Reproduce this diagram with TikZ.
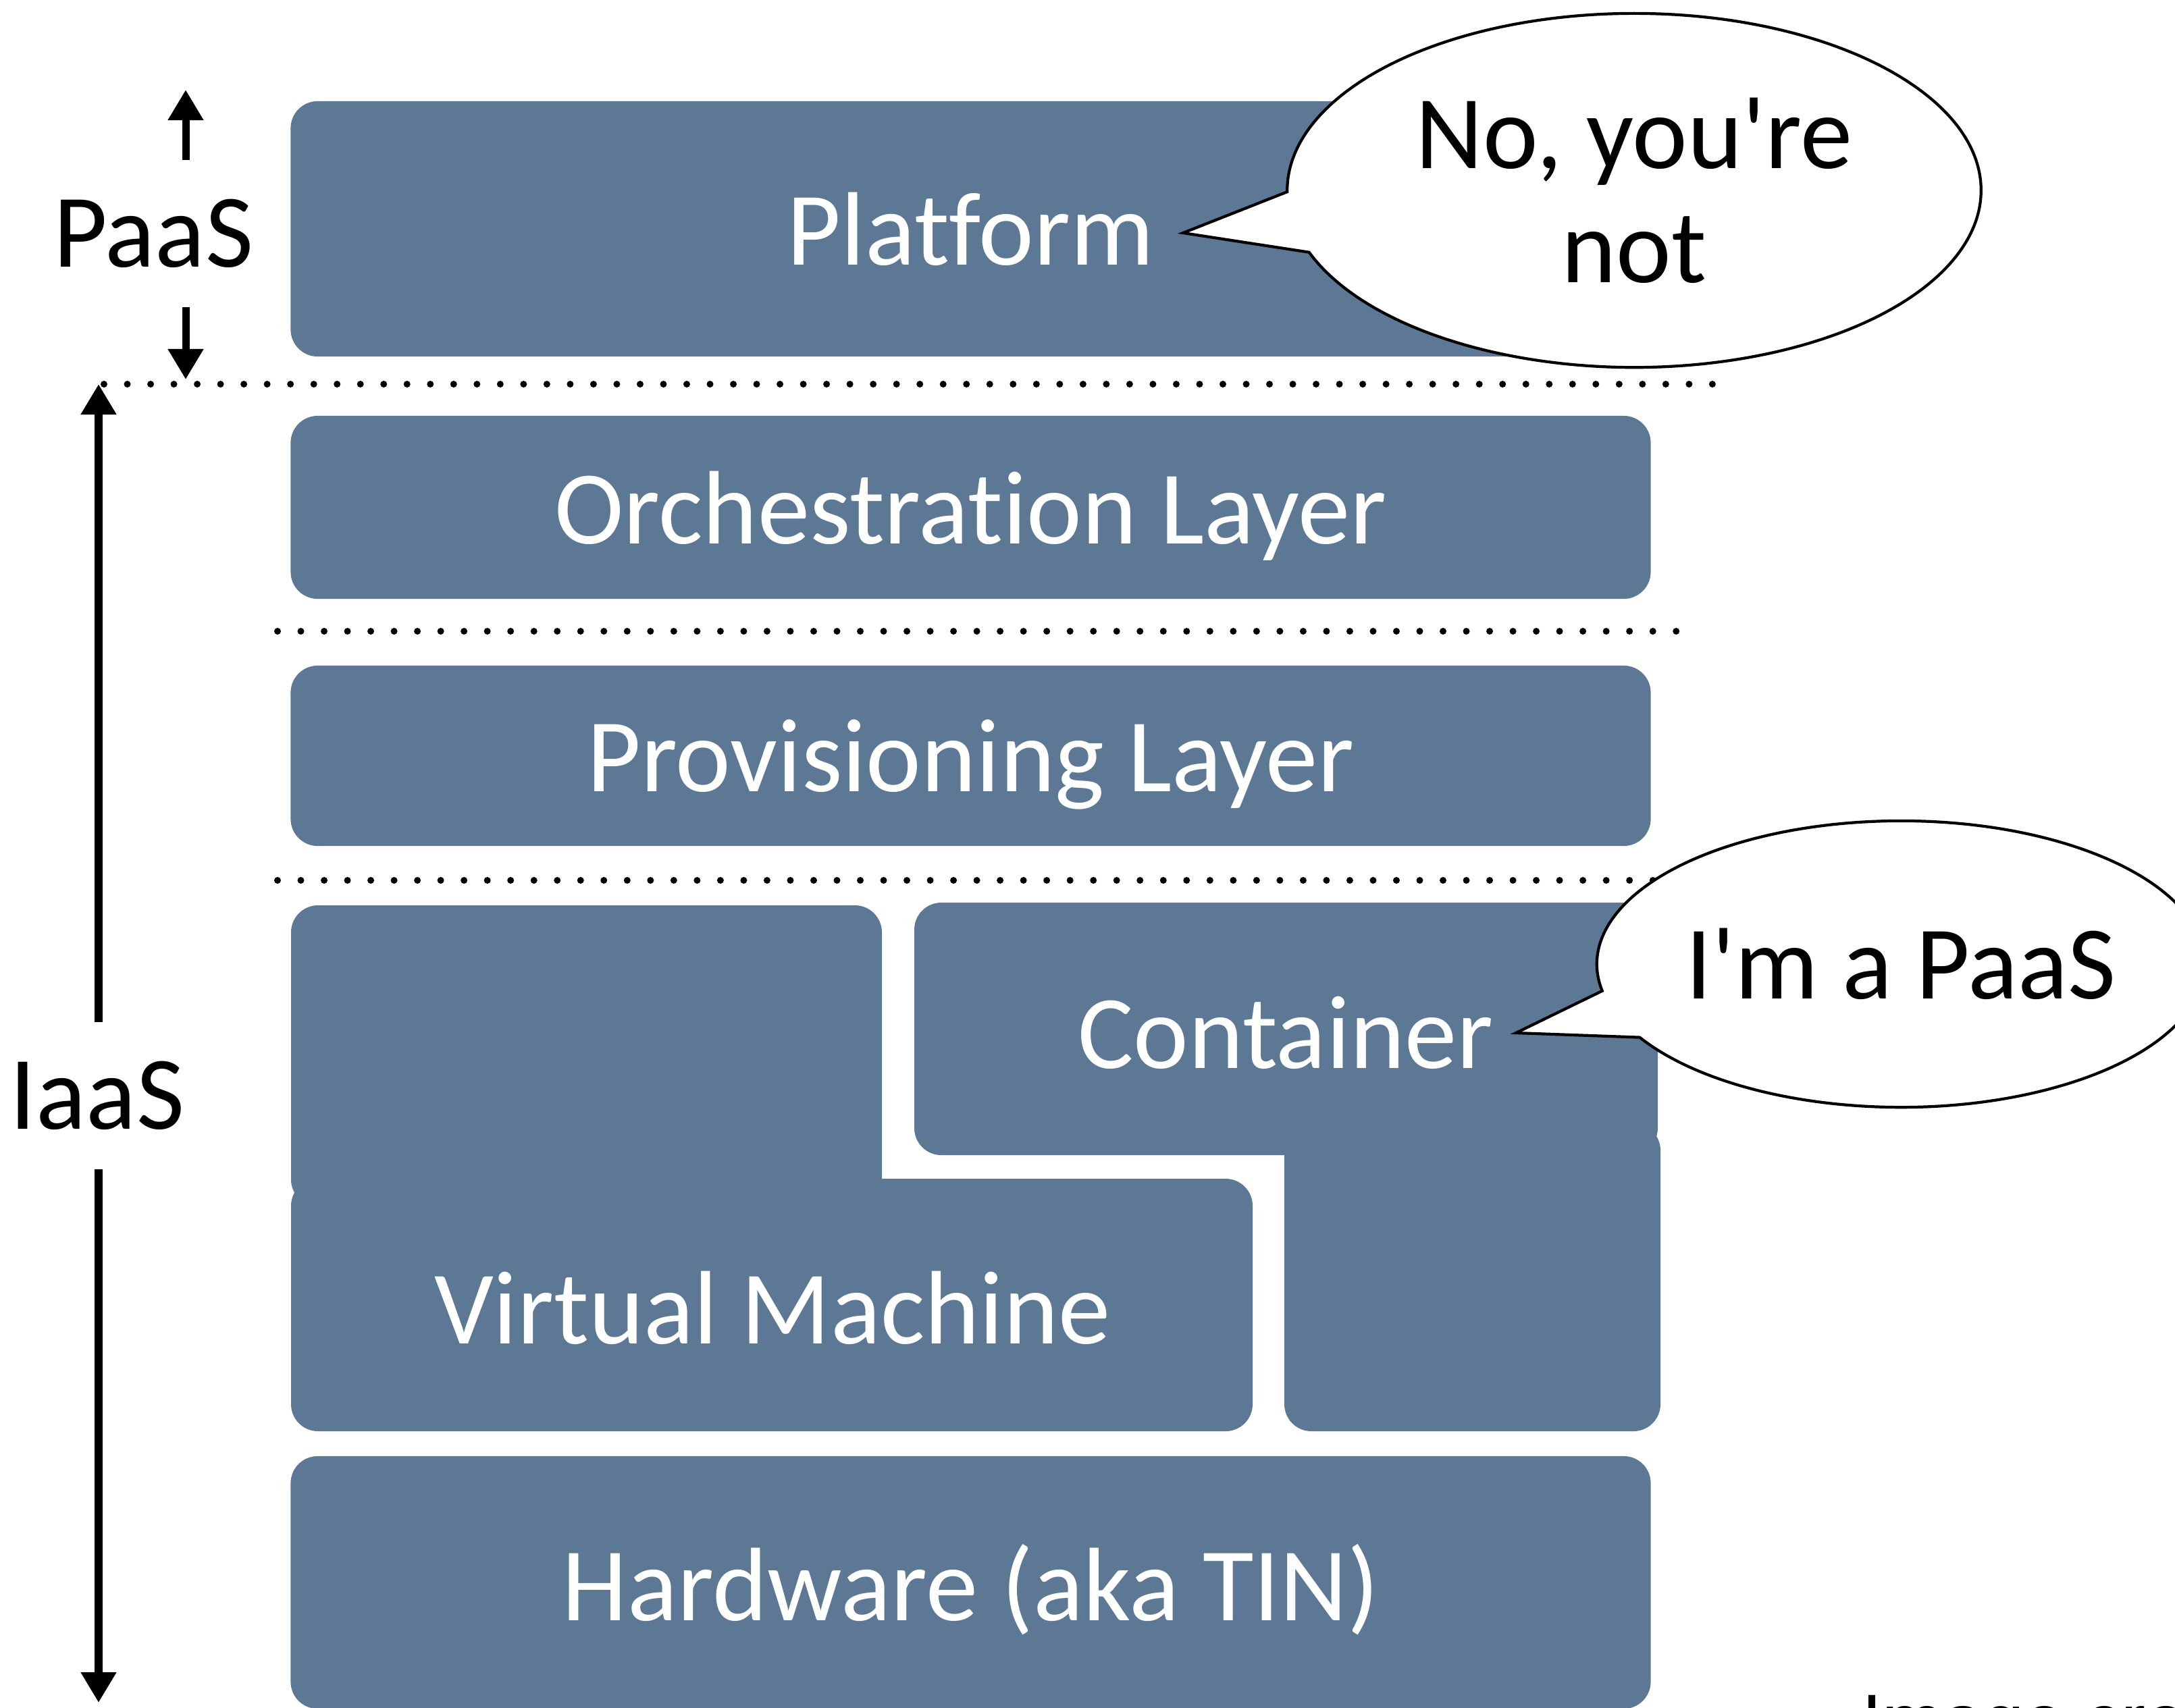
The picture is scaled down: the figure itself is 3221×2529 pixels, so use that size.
\documentclass[tikz,border=0pt]{standalone}
\usepackage{fontspec}
\newfontfamily\labelfont{Carlito}[Ligatures=NoCommon]
\newfontfamily\credfont{Liberation Sans}
\usetikzlibrary{arrows.meta,shapes.callouts}
\definecolor{slate}{RGB}{92,120,148}
\tikzset{
  layer/.style={fill=slate, rounded corners=0.4cm, text=white, inner sep=0pt, text depth=0pt,
    font=\labelfont\fontsize{44}{48}\selectfont, minimum width=20.13cm},
  block/.style={fill=slate, rounded corners=0.4cm},
  boxlabel/.style={text=white, font=\labelfont\fontsize{44}{48}\selectfont},
  sidelabel/.style={text=black, font=\labelfont\fontsize{44}{48}\selectfont},
  bubble/.style={ellipse callout, draw=black, line width=1.2pt, fill=white, inner sep=0pt,
    callout pointer arc=20, align=center, font=\labelfont\fontsize{44}{48}\selectfont},
  sep/.style={line width=0.1cm, dash pattern=on 0pt off 0.345cm, line cap=round},
  span/.style={line width=0.11cm, -{Triangle[width=0.5cm,length=0.45cm]}}
}
\begin{document}
\begin{tikzpicture}[x=0.01cm,y=-0.01cm]
\useasboundingbox (0,0) rectangle (3221,2529);
% layers
\node [layer, minimum height=3.78cm] (platform) at (1437.5,339) {Platform};
\node [layer, minimum height=2.71cm] (orch) at (1437.5,751.5) {Orchestration Layer};
\node [layer, minimum height=2.67cm] (prov) at (1437.5,1119.5) {Provisioning Layer};
\node [layer, minimum height=3.74cm] (hw) at (1437.5,2344) {Hardware (aka TIN)};
% virtual machine and container
\fill [block] (431,1341) rectangle (1306,1787);
\fill [block] (431,1746) rectangle (1855,2120);
\fill [block] (1354,1337) rectangle (2455,1711);
\fill [block] (1902,1664) rectangle (2459,2120);
\node [boxlabel] (vm) at (1144,1937) {Virtual Machine};
\node [boxlabel] (cont) at (1904,1530) {Container};
% separators
\draw [sep] (154,569) -- (2540,569);
\draw [sep] (411,935) -- (2510,935);
\draw [sep] (411,1304) -- (2475,1304);
% paas / iaas
\node [sidelabel] (paas) at (227,346) {PaaS};
\coordinate (paasa) at (275,237);
\coordinate (paastop) at (275,133);
\coordinate (paasb) at (275,455);
\coordinate (paasbot) at (275,562);
\draw [span] (paasa) -- (paastop);
\draw [span] (paasb) -- (paasbot);
\node [sidelabel] (iaas) at (144,1623) {IaaS};
\coordinate (iaasa) at (146,1514);
\coordinate (iaastop) at (146,569);
\coordinate (iaasb) at (146,1732);
\coordinate (iaasbot) at (146,2522);
\draw [span] (iaasa) -- (iaastop);
\draw [span] (iaasb) -- (iaasbot);
% bubbles
\coordinate (ptip) at (1752,345);
\coordinate (ctip) at (2245,1530);
\node [bubble, minimum width=10.27cm, minimum height=5.24cm, callout absolute pointer={(ptip)}] (saynot) at (2420,282) {No, you're\\not};
\node [bubble, minimum width=8.4cm, minimum height=4.24cm, callout absolute pointer={(ctip)}] (saypaas) at (2815,1428) {I'm a PaaS};
\node [anchor=base west, font=\credfont\fontsize{30.7}{36}\selectfont] (credit) at (2745,2585) {Image credit};
\end{tikzpicture}
\end{document}
